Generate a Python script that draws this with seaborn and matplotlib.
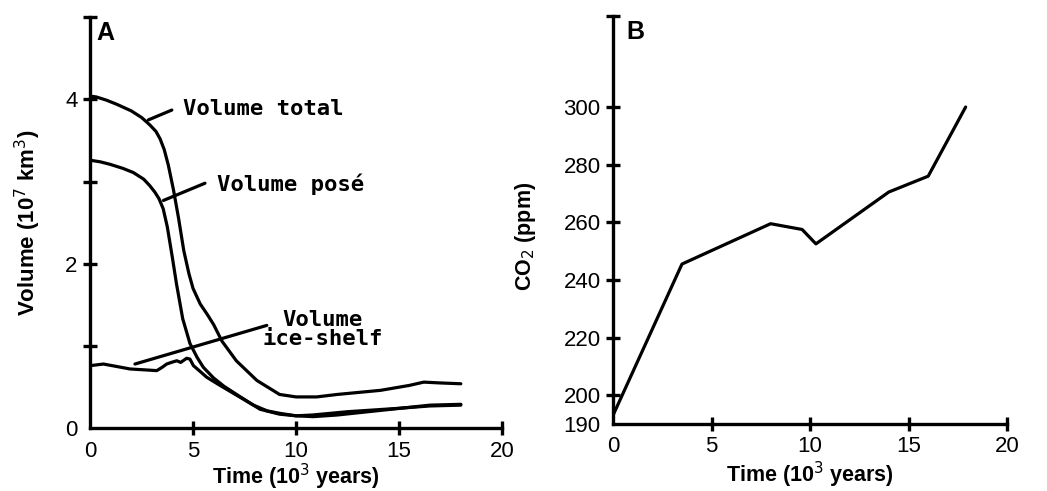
import matplotlib
matplotlib.use("Agg")
import matplotlib.pyplot as plt
import seaborn as sns

# panel A - ice volume (10^7 km3)
time_total = [0, 0.3, 0.8, 1.3, 2.0, 2.5, 2.9, 3.2, 3.4, 3.6, 3.8, 4.05, 4.3, 4.55, 4.8, 5.0, 5.35,
              5.7, 6.0, 6.4, 7.1, 8.1, 9.2, 10.0, 11.0, 12.0, 14.1, 15.5, 16.2, 17.0, 18.0]
vol_total = [4.04, 4.03, 3.99, 3.94, 3.86, 3.78, 3.69, 3.61, 3.52, 3.39, 3.20, 2.90, 2.55, 2.16, 1.88, 1.70, 1.51,
             1.38, 1.26, 1.06, 0.82, 0.58, 0.41, 0.38, 0.38, 0.41, 0.46, 0.52, 0.56, 0.55, 0.54]

time_pose = [0, 0.5, 0.97, 1.6, 2.1, 2.6, 2.9, 3.15, 3.35, 3.55, 3.75, 4.0, 4.2, 4.5, 4.85, 5.2, 5.5,
             6.0, 6.5, 7.3, 8.25, 9.2, 10.0, 10.8, 12.5, 14.9, 16.5, 18.0]
vol_pose = [3.26, 3.24, 3.21, 3.16, 3.11, 3.03, 2.95, 2.87, 2.79, 2.67, 2.45, 2.07, 1.75, 1.33, 1.03, 0.86, 0.74,
            0.61, 0.51, 0.38, 0.23, 0.17, 0.15, 0.16, 0.20, 0.24, 0.27, 0.28]

time_shelf = [0, 0.65, 1.3, 1.94, 2.6, 3.24, 3.5, 3.72, 3.95, 4.21, 4.4, 4.69, 4.85, 5.02, 5.3,
              5.66, 6.31, 7.12, 7.93, 8.6, 9.22, 10.0, 10.84, 12.0, 13.5, 15.0, 16.5, 18.0]
vol_shelf = [0.76, 0.78, 0.75, 0.72, 0.71, 0.70, 0.74, 0.78, 0.80, 0.82, 0.80, 0.85, 0.84, 0.76, 0.70,
             0.62, 0.52, 0.40, 0.28, 0.21, 0.18, 0.15, 0.14, 0.16, 0.20, 0.24, 0.28, 0.29]

# panel B - CO2 (ppm)
time_co2 = [0, 3.5, 8.0, 9.6, 10.3, 14.0, 16.0, 17.9]
co2 = [193, 245.5, 259.5, 257.5, 252.5, 270.5, 276, 300]

sns.set_style("ticks")
plt.rcParams['font.family'] = ['Liberation Sans', 'DejaVu Sans']
plt.rcParams.update({"text.color": "black", "axes.labelcolor": "black",
                     "xtick.color": "black", "ytick.color": "black", "axes.edgecolor": "black"})

LW = 2.3
fig = plt.figure(figsize=(10.47, 4.91), dpi=100)
axA = fig.add_axes([0.086, 0.128, 0.3935, 0.837])
axB = fig.add_axes([0.5855, 0.1365, 0.3763, 0.831])

for t, v in [(time_total, vol_total), (time_pose, vol_pose), (time_shelf, vol_shelf)]:
    sns.lineplot(x=t, y=v, ax=axA, color="black", lw=LW, estimator=None, sort=False)
sns.lineplot(x=time_co2, y=co2, ax=axB, color="black", lw=LW, estimator=None, sort=False)

mono = dict(family="DejaVu Sans Mono", fontsize=16, fontweight="bold")
# leader lines + labels
axA.plot([2.83, 3.97], [3.75, 3.87], color="black", lw=LW)
axA.text(4.5, 3.88, "Volume total", va="center", ha="left", **mono)
axA.plot([3.56, 5.58], [2.77, 2.98], color="black", lw=LW)
axA.text(6.15, 2.97, "Volume posé", va="center", ha="left", **mono)
axA.plot([2.18, 8.58], [0.78, 1.25], color="black", lw=LW)
axA.text(11.3, 1.20, "Volume\nice-shelf", va="center", ha="center", multialignment="center",
         linespacing=0.95, **mono)

axA.set_xlim(0, 20)
axA.set_ylim(0, 5)
axA.set_xticks([0, 5, 10, 15, 20])
axA.set_yticks([0, 1, 2, 3, 4, 5])
axA.set_yticklabels(["0", "", "2", "", "4", ""])
axA.set_xlabel("Time (10$^3$ years)", fontsize=15.5, fontweight="bold", labelpad=0)
axA.set_ylabel("Volume (10$^7$ km$^3$)", fontsize=16, fontweight="bold")
axA.yaxis.set_label_coords(-0.113, 0.5)
axA.text(0.015, 0.99, "A", transform=axA.transAxes, fontsize=18, fontweight="bold", va="top")

axB.set_xlim(0, 20)
axB.set_ylim(190, 331.6)
axB.set_xticks([0, 5, 10, 15, 20])
axB.set_yticks([190, 200, 220, 240, 260, 280, 300, 331.6])
axB.set_yticklabels(["190", "200", "220", "240", "260", "280", "300", ""])
axB.set_xlabel("Time (10$^3$ years)", fontsize=15.5, fontweight="bold", labelpad=2)
axB.set_ylabel("CO$_2$ (ppm)", fontsize=15.5, fontweight="bold")
axB.yaxis.set_label_coords(-0.19, 0.46)
axB.text(0.035, 0.99, "B", transform=axB.transAxes, fontsize=18, fontweight="bold", va="top")

for ax in (axA, axB):
    sns.despine(ax=ax)
    for s in ("left", "bottom"):
        ax.spines[s].set_linewidth(2.4)
    ax.tick_params(direction="inout", length=10, width=2.4, labelsize=16, pad=4)
    ax.xaxis.get_major_ticks()[0].tick1line.set_visible(False)
    ax.yaxis.get_major_ticks()[0].tick1line.set_visible(False)

fig.savefig("out.png", dpi=100)
